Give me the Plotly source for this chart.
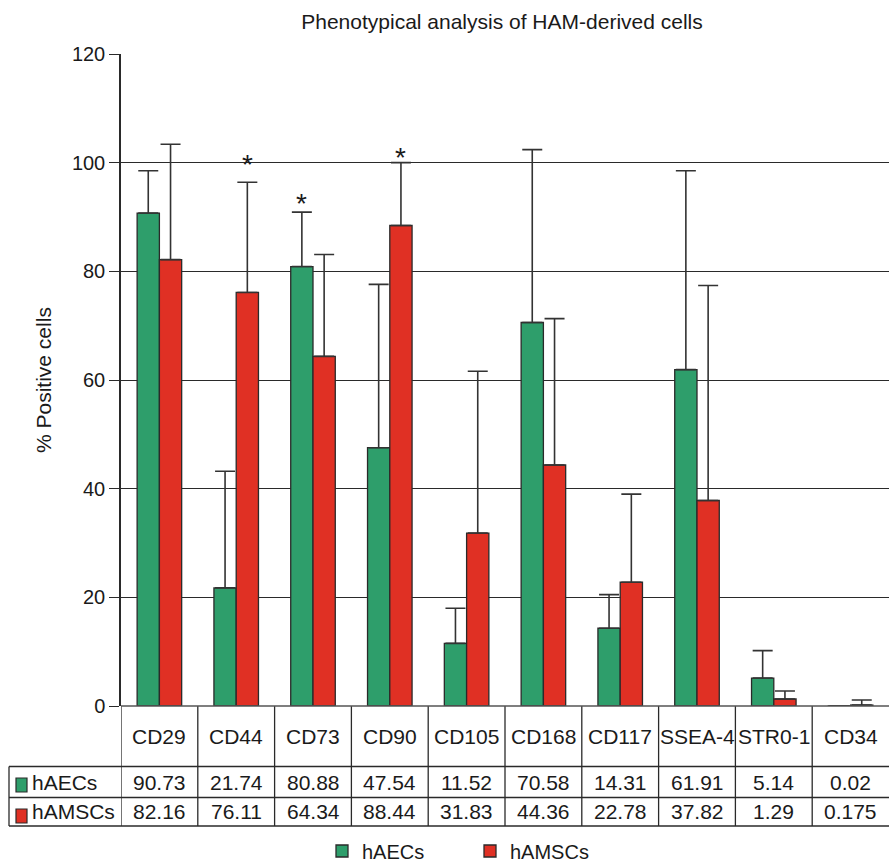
import plotly.graph_objects as go

categories = ["CD29", "CD44", "CD73", "CD90", "CD105", "CD168", "CD117", "SSEA-4", "STR0-1", "CD34"]
series_names = ["hAECs", "hAMSCs"]
haecs = [90.73, 21.74, 80.88, 47.54, 11.52, 70.58, 14.31, 61.91, 5.14, 0.02]
hamscs = [82.16, 76.11, 64.34, 88.44, 31.83, 44.36, 22.78, 37.82, 1.29, 0.175]
# upper error (SD)
haecs_err = [7.77, 21.46, 10.02, 30.06, 6.48, 31.82, 6.19, 36.59, 5.06, 0.0]
hamscs_err = [21.24, 20.29, 18.76, 11.56, 29.77, 26.94, 16.22, 39.58, 1.47, 0.93]
# significance markers
star_cats = ["CD44", "CD73", "CD90"]
star_series = ["hAMSCs", "hAECs", "hAMSCs"]
star_y = [100.9, 93.7, 102.2]
y_ticks = [0, 20, 40, 60, 80, 100, 120]

colors = {"hAECs": "#2e9e6b", "hAMSCs": "#e03024"}
FONT = "Liberation Sans, Arial, sans-serif"
TXT = "#1a1a1a"
LINE = "#2a2a2a"

WIDTH, HEIGHT = 889, 863
L, R, T, B = 121, 0, 54, 157
W = WIDTH - L - R
H = HEIGHT - T - B
BOT = HEIGHT - B  # pixel y of plot bottom


def px(x):
    return (x - L) / W


def py(y):
    return (BOT - y) / H


bargap = 0.42
fig = go.Figure()
for name, vals, errs in [("hAECs", haecs, haecs_err), ("hAMSCs", hamscs, hamscs_err)]:
    fig.add_trace(go.Bar(
        name=name, x=categories, y=vals,
        marker=dict(color=colors[name], line=dict(color=LINE, width=1.3)),
        error_y=dict(type="data", symmetric=False, array=errs,
                     arrayminus=[0] * len(errs), color="#333333",
                     thickness=1.6, width=10),
    ))

shapes = []
# table column separators
for i in range(len(categories)):
    shapes.append(dict(type="line", xref="x", yref="paper", x0=i - 0.5, x1=i - 0.5,
                       y0=py(826), y1=py(BOT), line=dict(color=LINE, width=1.3)))
shapes.append(dict(type="line", xref="paper", yref="paper", x0=px(9), x1=px(9),
                   y0=py(826), y1=py(766.5), line=dict(color=LINE, width=1.3)))
for yy in [766.5, 797.5, 826]:
    shapes.append(dict(type="line", xref="paper", yref="paper", x0=px(9), x1=1,
                       y0=py(yy), y1=py(yy), line=dict(color=LINE, width=1.3)))
# x axis line at zero
shapes.append(dict(type="line", xref="paper", yref="paper", x0=0, x1=1,
                   y0=0, y1=0, line=dict(color="#555555", width=1.6)))

annotations = []
for c in categories:
    annotations.append(dict(x=c, y=py(736), xref="x", yref="paper", text=c,
                            showarrow=False, yanchor="middle",
                            font=dict(size=21, color=TXT, family=FONT)))
row_y = {"hAECs": 782, "hAMSCs": 811.5}
box_y = {"hAECs": (778, 792), "hAMSCs": (809, 823)}
for name, vals in [("hAECs", haecs), ("hAMSCs", hamscs)]:
    for c, v in zip(categories, vals):
        annotations.append(dict(x=c, y=py(row_y[name]), xref="x", yref="paper",
                                text=f"{v:g}", showarrow=False, yanchor="middle",
                                font=dict(size=21, color=TXT, family=FONT)))
    annotations.append(dict(x=px(30), y=py(row_y[name]), xref="paper", yref="paper",
                            text=name, showarrow=False, xanchor="left", yanchor="middle",
                            font=dict(size=21, color=TXT, family=FONT)))
    y0, y1 = box_y[name]
    shapes.append(dict(type="rect", xref="paper", yref="paper", x0=px(16), x1=px(27),
                       y0=py(y1), y1=py(y0), fillcolor=colors[name],
                       line=dict(color=LINE, width=1.2)))

off = (1 - bargap) / 4
for c, s, yv in zip(star_cats, star_series, star_y):
    xi = categories.index(c) + (off if s == "hAMSCs" else -off)
    annotations.append(dict(x=xi, y=yv, xref="x", yref="y", text="*", showarrow=False,
                            yanchor="middle", yshift=-7,
                            font=dict(size=28, color=TXT, family=FONT)))

annotations.append(dict(x=px(43), y=py(380), xref="paper", yref="paper",
                        text="% Positive cells", textangle=-90, showarrow=False,
                        xanchor="center", yanchor="middle",
                        font=dict(size=21, color=TXT, family=FONT)))

fig.update_layout(
    width=WIDTH, height=HEIGHT,
    margin=dict(l=L, r=R, t=T, b=B),
    paper_bgcolor="white", plot_bgcolor="white",
    barmode="group", bargap=bargap, bargroupgap=0,
    title=dict(text="Phenotypical analysis of HAM-derived cells", x=502 / WIDTH,
               xanchor="center", y=1 - 22 / HEIGHT, yanchor="middle",
               font=dict(size=21, color=TXT, family=FONT)),
    xaxis=dict(type="category", categoryorder="array", categoryarray=categories,
               range=[-0.5, len(categories) - 0.5], showticklabels=False,
               showgrid=False, zeroline=False, showline=False, ticks=""),
    yaxis=dict(range=[0, 120], tickvals=y_ticks, showgrid=True, gridcolor=LINE,
               gridwidth=1.3, zeroline=False, showline=True, linecolor=LINE,
               linewidth=1.5, ticks="outside", ticklen=10, tickcolor=LINE,
               tickwidth=1.3, tickfont=dict(size=20, color=TXT, family=FONT)),
    showlegend=True,
    legend=dict(orientation="h", xref="container", yref="container",
                x=(332 - 10) / WIDTH, xanchor="left", y=1 - 851 / HEIGHT,
                yanchor="middle", font=dict(size=20, color=TXT, family=FONT),
                entrywidth=103, entrywidthmode="pixels", bgcolor="rgba(0,0,0,0)"),
    shapes=shapes, annotations=annotations,
)

fig.write_html("out.html", config={"displayModeBar": False},
               post_script="document.body.style.margin='0px';")
